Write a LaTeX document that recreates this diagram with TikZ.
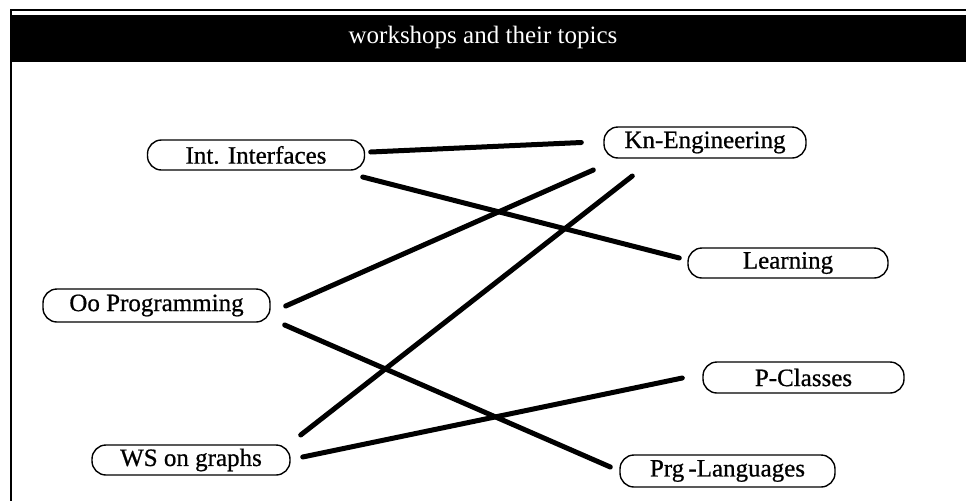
\documentclass[tikz,border=0pt]{standalone}
\usepackage{fontspec}
\setmainfont{Liberation Serif}
\newfontfamily\boxfont[FakeBold=0.7]{Liberation Serif}
\usetikzlibrary{calc}
\begin{document}
\begin{tikzpicture}[x=1pt,y=-1pt,
  topic/.style={draw=black,line width=1.4pt,rounded corners=14pt,
    inner sep=0pt,font=\boxfont\fontsize{25}{27}\selectfont,text=black},
  link/.style={line width=5pt,line cap=round,black}]
  % canvas
  \fill[white] (0,0) rectangle (966,501);
  \useasboundingbox (0,0) rectangle (966,501);
  % header: thin rule, black title bar and left border
  \draw[line width=2pt] (10,10) -- (966,10);
  \fill[black] (10,15) rectangle (966,62);
  \draw[line width=2.4pt] (11,9) -- (11,501);
  \node[text=white,font=\fontsize{25}{27}\selectfont] (title) at (483,37) {workshops and their topics};
  % workshops
  \node[topic,minimum width=217pt,minimum height=30pt] (ii) at (256,155) {Int. Interfaces};
  \node[topic,minimum width=227pt,minimum height=33pt] (oo) at (156.5,305.5) {Oo Programming};
  \node[topic,minimum width=198pt,minimum height=30pt] (ws) at (191,460) {WS on graphs};
  % topics
  \node[topic,minimum width=202pt,minimum height=31pt] (kn) at (705,142.5) {Kn{-}Engineering};
  \node[topic,minimum width=200pt,minimum height=30pt] (le) at (788,263) {Learning};
  \node[topic,minimum width=201pt,minimum height=31pt] (pc) at (803.5,377.5) {P-Classes};
  \node[topic,minimum width=215pt,minimum height=32pt] (pl) at (727.5,471) {Prg\,-Languages};
  % connections
  \draw[link] ($(ii.east)+(5.5,-3)$) -- ($(kn.west)+(-22,0)$);
  \draw[link] ($(ii.east)+(-2.5,22)$) -- ($(le.west)+(-8,-5)$);
  \draw[link] ($(oo.east)+(15,0.5)$) -- ($(kn.west)+(-10,27.5)$);
  \draw[link] ($(oo.east)+(14,19.5)$) -- ($(pl.west)+(-9,-4)$);
  \draw[link] ($(ws.east)+(10,-25)$) -- ($(kn.west)+(29,33.5)$);
  \draw[link] ($(ws.east)+(12,-3)$) -- ($(pc.west)+(-20,0.5)$);
\end{tikzpicture}
\end{document}
